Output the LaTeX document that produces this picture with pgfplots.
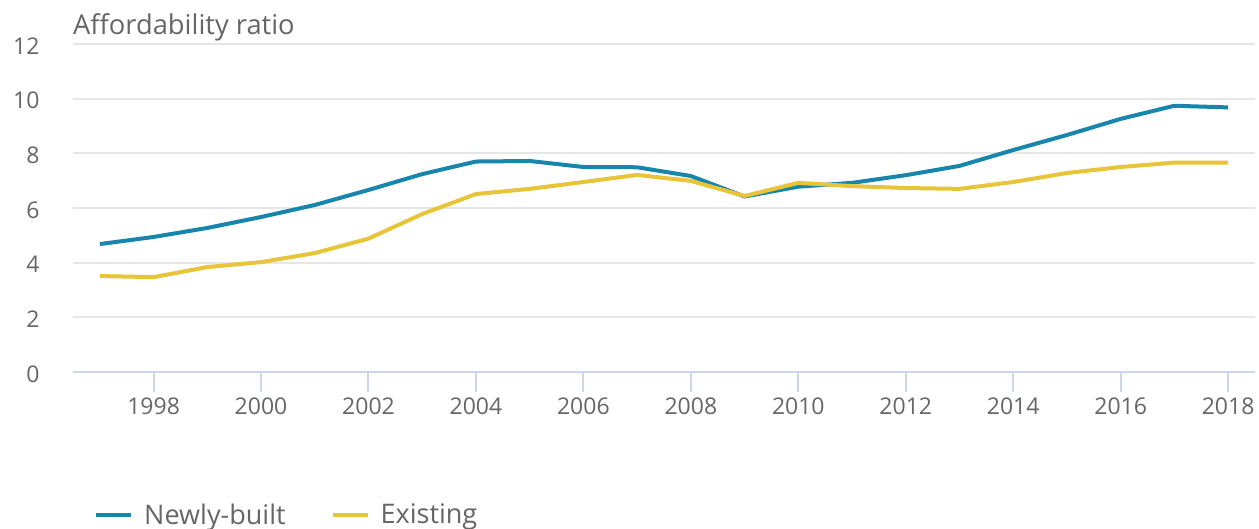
\documentclass[border=0pt]{standalone}
\usepackage{fontspec}
\setmainfont{Open Sans}
\usepackage{pgfplots}
\pgfplotsset{compat=1.18}
\definecolor{nbblue}{HTML}{1886AC}
\definecolor{exyellow}{HTML}{E8C438}
\definecolor{txtgray}{HTML}{666666}
\definecolor{gridgray}{HTML}{E6E6E6}
\definecolor{axblue}{HTML}{CCD6EB}
\begin{document}
\begin{tikzpicture}
\path[use as bounding box] (0,0) rectangle (1259pt,529pt);
\begin{axis}[
  at={(73pt,157pt)}, anchor=south west,
  scale only axis, width=1182pt, height=328pt,
  xmin=1996.5, xmax=2018.5, ymin=0, ymax=12,
  xtick={1998,2000,...,2018}, ytick={0,2,...,12},
  xticklabel style={/pgf/number format/1000 sep={}},
  /pgf/number format/assume math mode=true,
  tick label style={font=\fontsize{23}{27}\selectfont, text=txtgray},
  axis x line*=bottom, axis y line*=left,
  x axis line style={draw=axblue, line width=2pt, -},
  y axis line style={draw=none},
  ymajorgrids, grid style={draw=gridgray, line width=2pt},
  xtick style={draw=axblue, line width=2pt},
  ytick style={draw=none},
  tick align=outside, xtick pos=bottom,
  major tick length=20pt,
  yticklabel style={xshift=-10pt, yshift=-2pt},
  xticklabel style={yshift=-2pt},
  legend style={draw=none, fill=none, at={(axis description cs:0.0178,-0.435)}, anchor=west,
    font=\fontsize{27}{31}\selectfont, text=txtgray, inner sep=0pt,
    /tikz/every odd column/.append style={column sep=9pt},
    /tikz/every even column/.append style={column sep=43pt}},
  legend columns=2,
  legend image code/.code={\draw[#1, line width=4pt] (0pt,0pt) -- (35pt,0pt);},
  legend cell align=left,
]
\addplot[nbblue, line width=4pt, line join=round] coordinates {
(1997,4.68) (1998,4.94) (1999,5.27) (2000,5.67) (2001,6.11) (2002,6.66) (2003,7.24)
(2004,7.70) (2005,7.72) (2006,7.50) (2007,7.49) (2008,7.17) (2009,6.42) (2010,6.78)
(2011,6.92) (2012,7.20) (2013,7.54) (2014,8.12) (2015,8.67) (2016,9.26) (2017,9.74) (2018,9.68)
};
\addlegendentry{Newly-built}
\addplot[exyellow, line width=4pt, line join=round] coordinates {
(1997,3.51) (1998,3.47) (1999,3.84) (2000,4.02) (2001,4.35) (2002,4.88) (2003,5.78)
(2004,6.51) (2005,6.70) (2006,6.95) (2007,7.21) (2008,6.99) (2009,6.44) (2010,6.92)
(2011,6.80) (2012,6.73) (2013,6.70) (2014,6.95) (2015,7.28) (2016,7.50) (2017,7.66) (2018,7.66)
};
\addlegendentry{Existing}
\end{axis}
\node[anchor=base west, inner sep=0pt, text=txtgray, font=\fontsize{27.3}{31}\selectfont] at (73pt,494pt) {Affordability ratio};
\end{tikzpicture}
\end{document}
